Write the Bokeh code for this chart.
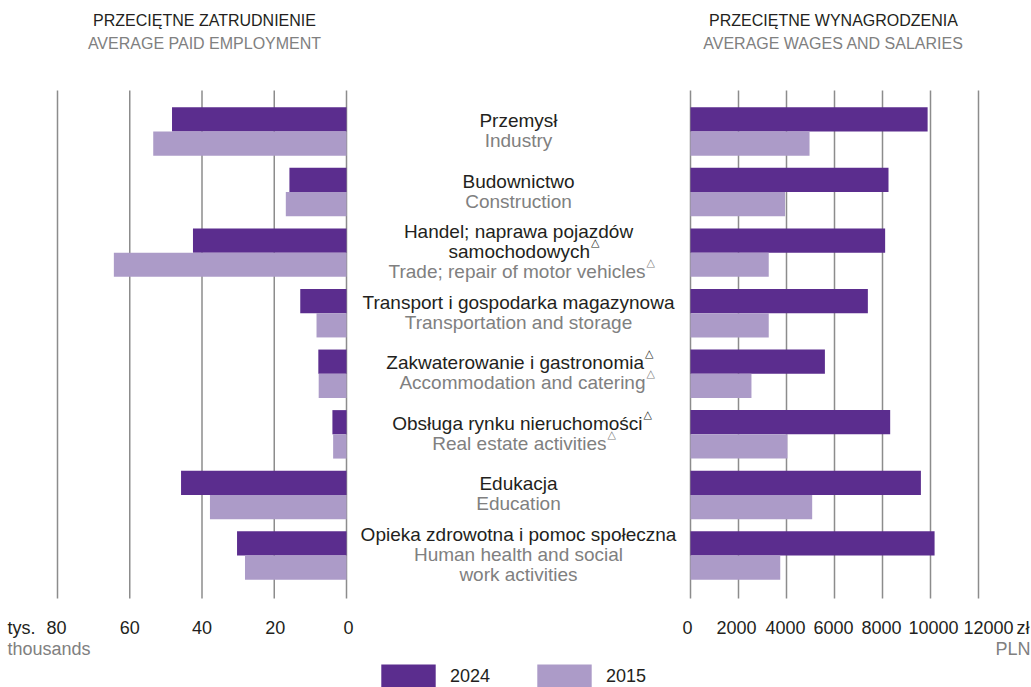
import numpy as np
from bokeh.plotting import figure
from bokeh.models import ColumnDataSource, Range1d, Legend, LegendItem
from bokeh.layouts import row
from bokeh.embed import file_html
from bokeh.resources import INLINE
from bokeh.core.properties import value

# ---------------- data ----------------
categories_pl = [
    "Przemysł",
    "Budownictwo",
    "Handel; naprawa pojazdów\nsamochodowych△",
    "Transport i gospodarka magazynowa",
    "Zakwaterowanie i gastronomia△",
    "Obsługa rynku nieruchomości△",
    "Edukacja",
    "Opieka zdrowotna i pomoc społeczna",
]
categories_en = [
    "Industry",
    "Construction",
    "Trade; repair of motor vehicles△",
    "Transportation and storage",
    "Accommodation and catering△",
    "Real estate activities△",
    "Education",
    "Human health and social\nwork activities",
]
series_labels = ["2024", "2015"]
employment_2024 = [48.3, 15.8, 42.5, 12.8, 7.8, 3.9, 45.8, 30.3]
employment_2015 = [53.5, 16.8, 64.4, 8.3, 7.7, 3.7, 37.8, 28.1]
wages_2024 = [9880, 8250, 8110, 7390, 5600, 8320, 9600, 10170]
wages_2015 = [4960, 3940, 3260, 3260, 2540, 4040, 5070, 3740]
employment_ticks = [0, 20, 40, 60, 80]
wage_ticks = [0, 2000, 4000, 6000, 8000, 10000, 12000]
titles_left = ["PRZECIĘTNE ZATRUDNIENIE", "AVERAGE PAID EMPLOYMENT"]
titles_right = ["PRZECIĘTNE WYNAGRODZENIA", "AVERAGE WAGES AND SALARIES"]
unit_left = ["tys.", "thousands"]
unit_right = ["zł", "PLN"]

# ---------------- style / layout ----------------
DARK = "#5B2D8E"
LIGHT = "#AC9BC8"
FONT = "Liberation Sans"
TEXT = "#231F20"
GREY = "#808080"
GRID = "#8C8C8C"

CANVAS_H = 687
W_LEFT, W_MID, W_RIGHT = 356, 324, 351
CAT0_PX = 131.0          # pixel row of first category centre
CAT_PX = 60.57           # pixels between categories
GRID_TOP_PX, GRID_BOT_PX = 90, 598
TICK_PX, UNIT2_PX = 627, 648
TITLE_PX = (20, 43)
LINE_PX = 20
BAR_H = 0.4

E_ZERO_PX, E_SCALE = 346.0, 289.0 / 80.0          # left panel (canvas 0..356)
W_ZERO_PX, W_SCALE = 690.0 - W_LEFT - W_MID, 288.0 / 12000.0  # right panel local px


def py2y(py):
    return (py - CAT0_PX) / CAT_PX


def px2e(px):
    return (E_ZERO_PX - px) / E_SCALE


def px2w(px_local):
    return (px_local - W_ZERO_PX) / W_SCALE


n = len(categories_pl)
idx = np.arange(n)
y_range = Range1d(py2y(CANVAS_H), py2y(0))

src = ColumnDataSource(dict(
    y24=idx - BAR_H / 2, y15=idx + BAR_H / 2,
    e24=employment_2024, e15=employment_2015,
    w24=wages_2024, w15=wages_2015, zero=np.zeros(n),
))


def make_fig(width, x_range):
    p = figure(width=width, height=CANVAS_H, x_range=x_range, y_range=y_range,
               min_border=0, min_border_left=0, min_border_right=0,
               min_border_top=0, min_border_bottom=0,
               toolbar_location=None, output_backend="svg",
               x_axis_location=None, y_axis_location=None)
    p.outline_line_color = None
    p.grid.grid_line_color = None
    p.background_fill_color = "white"
    p.border_fill_color = "white"
    return p


def txt(p, x, y, text, color, size, align="center", x_offset=0):
    p.text(x=x, y=y, text=text, text_color=color, text_font=value(FONT),
           text_font_size=size, text_align=align, text_baseline="middle",
           x_offset=x_offset)


def panel(p, ticks, key24, key15, horiz_left, tick_offsets):
    k = len(ticks)
    p.segment(x0=ticks, y0=[py2y(GRID_TOP_PX)] * k, x1=ticks, y1=[py2y(GRID_BOT_PX)] * k,
              line_color=GRID, line_width=1.5)
    if horiz_left:
        p.hbar(y="y24", left=key24, right="zero", height=BAR_H, fill_color=DARK, line_color=None, source=src)
        p.hbar(y="y15", left=key15, right="zero", height=BAR_H, fill_color=LIGHT, line_color=None, source=src)
    else:
        p.hbar(y="y24", left="zero", right=key24, height=BAR_H, fill_color=DARK, line_color=None, source=src)
        p.hbar(y="y15", left="zero", right=key15, height=BAR_H, fill_color=LIGHT, line_color=None, source=src)
    p.text(x=ticks, y=[py2y(TICK_PX)] * k, text=[str(t) for t in ticks], text_color=TEXT,
           text_font=value(FONT), text_font_size="18px", text_align="center",
           text_baseline="middle", x_offset=tick_offsets)


# ---- left panel: employment (reversed axis) ----
left = make_fig(W_LEFT, Range1d(px2e(0), px2e(W_LEFT)))
panel(left, employment_ticks, "e24", "e15", True, [2, 1, 0, 0, -1])
txt(left, [px2e(204)], [py2y(TITLE_PX[0])], [titles_left[0]], TEXT, "16px")
txt(left, [px2e(204)], [py2y(TITLE_PX[1])], [titles_left[1]], GREY, "16px")
txt(left, [px2e(7)], [py2y(TICK_PX)], [unit_left[0]], TEXT, "18px", "left")
txt(left, [px2e(7)], [py2y(UNIT2_PX)], [unit_left[1]], GREY, "18px", "left")

# ---- right panel: wages ----
right = make_fig(W_RIGHT, Range1d(px2w(0), px2w(W_RIGHT)))
panel(right, wage_ticks, "w24", "w15", False, [-3, -2, -1, -1, -1, 3, 10])
rx0 = W_LEFT + W_MID
txt(right, [px2w(833 - rx0)], [py2y(TITLE_PX[0])], [titles_right[0]], TEXT, "16px")
txt(right, [px2w(833 - rx0)], [py2y(TITLE_PX[1])], [titles_right[1]], GREY, "16px")
txt(right, [px2w(1016 - rx0)], [py2y(TICK_PX)], [unit_right[0]], TEXT, "18px", "left")
txt(right, [px2w(1030 - rx0)], [py2y(UNIT2_PX)], [unit_right[1]], GREY, "18px", "right")

# ---- middle panel: category labels + legend ----
mid = make_fig(W_MID, Range1d(0, 1))

# right end (px from centre) of lines that carry the superscript triangle
TRI_END = {
    "samochodowych": 71.5,
    "Trade; repair of motor vehicles": 127,
    "Zakwaterowanie i gastronomia": 125.5,
    "Accommodation and catering": 127,
    "Obsługa rynku nieruchomości": 124,
    "Real estate activities": 88,
}

cen = dict(x=[], y=[], text=[], color=[], yo=[])
rgt = dict(x=[], y=[], text=[], color=[], yo=[], xo=[])
tri = dict(x=[], y=[], text=[], color=[], yo=[], xo=[])
for i in range(n):
    lines = [(t, TEXT) for t in categories_pl[i].split("\n")] + \
            [(t, GREY) for t in categories_en[i].split("\n")]
    k = len(lines)
    for j, (t, c) in enumerate(lines):
        off = -(k - 1) * LINE_PX / 2 - 1 + j * LINE_PX
        if t.endswith("△"):
            main = t[:-1]
            end = TRI_END[main]
            for d, tx, yo, xo in ((rgt, main, off, end), (tri, "△", off - 9, end + 1)):
                d["x"].append(0.5); d["y"].append(idx[i]); d["color"].append(c)
                d["text"].append(tx); d["yo"].append(yo); d["xo"].append(xo)
        else:
            cen["x"].append(0.5); cen["y"].append(idx[i]); cen["text"].append(t)
            cen["color"].append(c); cen["yo"].append(off)

mid.text(x="x", y="y", text="text", text_color="color", y_offset="yo",
         text_align="center", text_baseline="middle", text_font=value(FONT),
         text_font_size="19px", source=ColumnDataSource(cen))
mid.text(x="x", y="y", text="text", text_color="color", y_offset="yo", x_offset="xo",
         text_align="right", text_baseline="middle", text_font=value(FONT),
         text_font_size="19px", source=ColumnDataSource(rgt))
mid.text(x="x", y="y", text="text", text_color="color", y_offset="yo", x_offset="xo",
         text_align="left", text_baseline="middle", text_font=value("DejaVu Sans"),
         text_font_size="11px", source=ColumnDataSource(tri))

# zero-width bars in the label panel: invisible, they only feed the legend swatches
d24 = mid.hbar(y="y24", left="zero", right="zero", height=BAR_H, fill_color=DARK, line_color=None, source=src)
d15 = mid.hbar(y="y15", left="zero", right="zero", height=BAR_H, fill_color=LIGHT, line_color=None, source=src)
legend = Legend(items=[LegendItem(label=series_labels[0], renderers=[d24]),
                       LegendItem(label=series_labels[1], renderers=[d15])],
                orientation="horizontal", location=(18, -4),
                glyph_width=68, glyph_height=30, label_standoff=8, spacing=40,
                padding=0, margin=0, border_line_color=None, background_fill_alpha=0,
                label_text_font=FONT, label_text_font_size="18px", label_text_color=TEXT)
mid.add_layout(legend)

layout = row(left, mid, right)
open("out.html", "w").write(file_html(layout, INLINE))
